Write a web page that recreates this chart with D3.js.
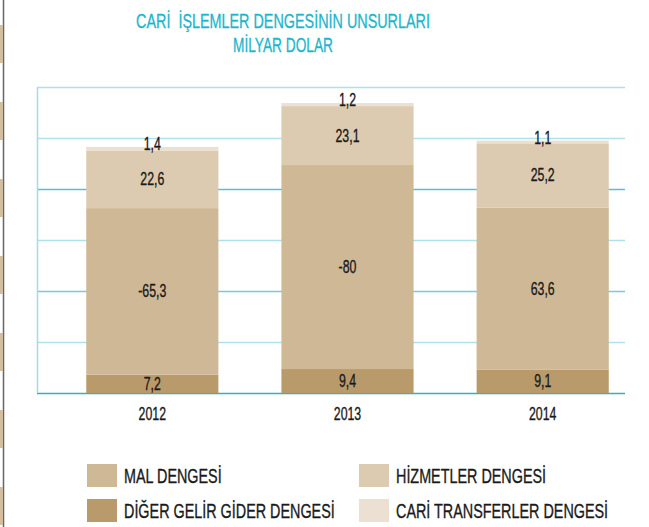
<!DOCTYPE html>
<html>
<head>
<meta charset="utf-8">
<script src="https://cdn.jsdelivr.net/npm/d3@7"></script>
<style>
  body { margin: 0; background: #fff; }
  svg text { font-family: "Liberation Sans", Arial, sans-serif; white-space: pre; }
</style>
</head>
<body>
<svg id="chart"></svg>
<script>
const years = ["2012", "2013", "2014"];
const seriesNames = ["DİĞER GELİR GİDER DENGESİ", "MAL DENGESİ", "HİZMETLER DENGESİ", "CARİ TRANSFERLER DENGESİ"];
const digerValues = [7.2, 9.4, 9.1];
const malValues = [65.3, 80, 63.6];
const hizmetValues = [22.6, 23.1, 25.2];
const cariValues = [1.4, 1.2, 1.1];
// printed labels (mal dengesi is shown with a sign in the source)
const malLabels = ["-65,3", "-80", "63,6"];
const gridTicks = [0, 20, 40, 60, 80, 100, 120];

const width = 649;
const height = 527;
const colors = ["#b99b6b", "#cfb895", "#dccbb0", "#ebe0d2"];
const fmt = (v) => String(v).replace(".", ",");

const svg = d3.select("#chart").attr("width", width).attr("height", height);

// condensed look: squeeze text horizontally around its anchor
let K = 1;
function squeeze(sel) {
  sel.each(function () {
    const t = d3.select(this);
    const x = +t.attr("x") || 0;
    const y = +t.attr("y") || 0;
    t.attr("x", 0).attr("y", 0)
      .attr("transform", `translate(${x}, ${y}) scale(${K}, 1)`);
  });
}

// page edge decoration
svg.append("line")
  .attr("x1", 3.5).attr("x2", 3.5).attr("y1", 0).attr("y2", height)
  .attr("stroke", "#666").attr("stroke-width", 1.5);
svg.selectAll(".edge")
  .data(d3.range(7))
  .enter()
  .append("rect")
  .attr("x", 0).attr("width", 3)
  .attr("y", (d) => 25 + d * 77)
  .attr("height", 38)
  .attr("fill", "#d3bf9f");

// title
const t1 = svg.append("text")
  .attr("x", 283).attr("y", 28)
  .attr("text-anchor", "middle")
  .attr("fill", "#1bb6cc")
  .attr("stroke", "#1bb6cc").attr("stroke-width", 0.3)
  .attr("font-size", 21)
  .text("CARİ  İŞLEMLER DENGESİNİN UNSURLARI");
K = 294 / t1.node().getComputedTextLength();
squeeze(t1);
svg.append("text")
  .attr("x", 283).attr("y", 52)
  .attr("text-anchor", "middle")
  .attr("fill", "#1bb6cc")
  .attr("stroke", "#1bb6cc").attr("stroke-width", 0.3)
  .attr("font-size", 20)
  .text("MİLYAR DOLAR")
  .call(squeeze);

const xScale = d3.scaleBand()
  .domain(years)
  .range([55, 640])
  .paddingInner(0.323)
  .paddingOuter(0.16);

const yScale = d3.scaleLinear()
  .domain([0, 120])
  .range([393, 87]);

// grid lines from the y scale
const gridColors = ["#2bb3c6", "#aee2ea", "#6fcfdd", "#aee2ea", "#4fc2d4", "#aee2ea", "#aee2ea"];
svg.append("g")
  .selectAll("line")
  .data(gridTicks)
  .enter()
  .append("line")
  .attr("x1", 37).attr("x2", 625)
  .attr("y1", (d) => yScale(d) + 0.5)
  .attr("y2", (d) => yScale(d) + 0.5)
  .attr("stroke", (d, i) => gridColors[i])
  .attr("stroke-width", 1.5);
svg.append("line")
  .attr("x1", 37.5).attr("x2", 37.5)
  .attr("y1", yScale(120)).attr("y2", yScale(0))
  .attr("stroke", "#9fdde7").attr("stroke-width", 1.5);

const rows = years.map((y, i) => ({
  year: y,
  diger: digerValues[i],
  mal: malValues[i],
  hizmet: hizmetValues[i],
  cari: cariValues[i],
  malLabel: malLabels[i]
}));
const keys = ["diger", "mal", "hizmet", "cari"];
const stacked = d3.stack().keys(keys)(rows);

const layers = svg.append("g")
  .selectAll("g")
  .data(stacked)
  .enter()
  .append("g")
  .attr("fill", (d, i) => colors[i]);

layers.selectAll("rect")
  .data((d) => d)
  .enter()
  .append("rect")
  .attr("x", (d) => xScale(d.data.year))
  .attr("width", xScale.bandwidth())
  .attr("y", (d) => yScale(d[1]))
  .attr("height", (d) => yScale(d[0]) - yScale(d[1]));

// value labels
stacked.forEach((layer, li) => {
  svg.append("g")
    .selectAll("text")
    .data(layer)
    .enter()
    .append("text")
    .attr("x", (d) => xScale(d.data.year) + xScale.bandwidth() / 2)
    .attr("y", (d) => li === 3 ? yScale(d[1]) + 3 : (yScale(d[0]) + yScale(d[1])) / 2 + 6)
    .attr("text-anchor", "middle")
    .attr("font-size", 18)
    .attr("fill", "#1a1a1a")
    .attr("stroke", "#1a1a1a").attr("stroke-width", 0.35)
    .text((d) => li === 1 ? d.data.malLabel : fmt(d.data[keys[li]]))
    .call(squeeze);
});

// x axis labels
const xAxis = d3.axisBottom(xScale).tickSize(0).tickPadding(0);
svg.append("g")
  .attr("transform", "translate(0, 407)")
  .call(xAxis)
  .call((g) => g.select(".domain").remove())
  .selectAll("text")
  .attr("font-size", 18)
  .attr("font-family", null)
  .attr("fill", "#1a1a1a")
  .attr("stroke", "#1a1a1a").attr("stroke-width", 0.35)
  .attr("transform", `scale(${K}, 1)`);

// legend
const legendItems = [
  { name: seriesNames[1], color: colors[1], x: 87, y: 464 },
  { name: seriesNames[2], color: colors[2], x: 359, y: 464 },
  { name: seriesNames[0], color: colors[0], x: 87, y: 499 },
  { name: seriesNames[3], color: colors[3], x: 359, y: 499 }
];
const legend = svg.append("g")
  .selectAll("g")
  .data(legendItems)
  .enter()
  .append("g")
  .attr("transform", (d) => `translate(${d.x}, ${d.y})`);
legend.append("rect")
  .attr("width", 30).attr("height", 23)
  .attr("fill", (d) => d.color);
legend.append("text")
  .attr("x", 37).attr("y", 19)
  .attr("font-size", 21)
  .attr("fill", "#1a1a1a")
  .attr("stroke", "#1a1a1a").attr("stroke-width", 0.35)
  .text((d) => d.name)
  .call(squeeze);
</script>
</body>
</html>
